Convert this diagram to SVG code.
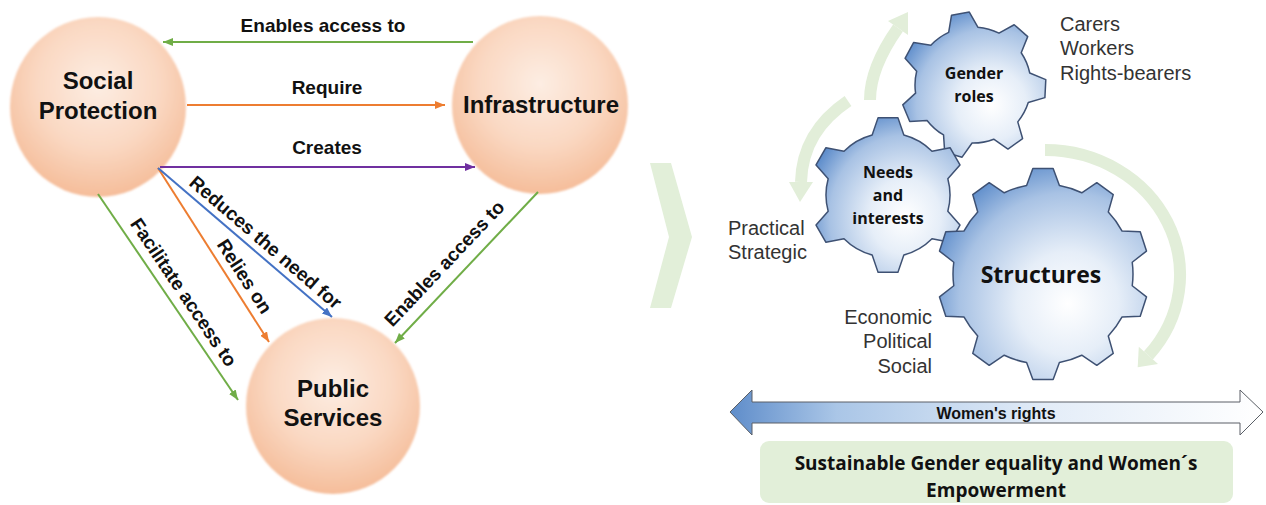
<svg xmlns="http://www.w3.org/2000/svg" width="1266" height="505" viewBox="0 0 1266 505">
<style>
.lbl{font-family:"Liberation Sans",Arial,sans-serif;font-weight:700;font-size:19px;fill:#111;text-anchor:middle}
.node{font-family:"Liberation Sans",Arial,sans-serif;font-weight:700;font-size:24px;fill:#111;text-anchor:middle}
.gl{font-family:"Open Sans","Liberation Sans",sans-serif;font-weight:700;font-size:16px;fill:#111;text-anchor:middle}
.plain{font-family:"Liberation Sans",Arial,sans-serif;font-size:20px;fill:#333}
.gear{stroke:#3e5173;stroke-width:1.5;fill:url(#gearG);stroke-linejoin:round}
.cn{fill:none;stroke-width:2}
.ga{fill:none;stroke:#e2eed9;stroke-width:12}
.gah{fill:#e2eed9}
</style>
<defs>
<radialGradient id="peach" cx="0.5" cy="0.38" r="0.64">
<stop offset="0" stop-color="#fdede3"/>
<stop offset="0.55" stop-color="#fad8c2"/>
<stop offset="1" stop-color="#f5bb97"/>
</radialGradient>
<filter id="soft" x="-5%" y="-5%" width="110%" height="110%"><feGaussianBlur stdDeviation="1.2"/></filter>
<radialGradient id="gearG" cx="0.62" cy="0.64" r="0.7">
<stop offset="0" stop-color="#ffffff"/>
<stop offset="0.35" stop-color="#e6eef8"/>
<stop offset="0.75" stop-color="#a8c2e4"/>
<stop offset="1" stop-color="#5e8dcb"/>
</radialGradient>
<linearGradient id="dbl" x1="0" y1="0" x2="1" y2="0">
<stop offset="0" stop-color="#5f8dca"/>
<stop offset="0.2" stop-color="#aac6e7"/>
<stop offset="0.6" stop-color="#e4edf8"/>
<stop offset="1" stop-color="#ffffff"/>
</linearGradient>
<marker id="mG" markerUnits="userSpaceOnUse" markerWidth="10" markerHeight="8" refX="10" refY="4" orient="auto"><path d="M0,0 L10,4 L0,8 z" fill="#70ad47"/></marker>
<marker id="mO" markerUnits="userSpaceOnUse" markerWidth="10" markerHeight="8" refX="10" refY="4" orient="auto"><path d="M0,0 L10,4 L0,8 z" fill="#ed7d31"/></marker>
<marker id="mP" markerUnits="userSpaceOnUse" markerWidth="10" markerHeight="8" refX="10" refY="4" orient="auto"><path d="M0,0 L10,4 L0,8 z" fill="#7030a0"/></marker>
<marker id="mB" markerUnits="userSpaceOnUse" markerWidth="10" markerHeight="8" refX="10" refY="4" orient="auto"><path d="M0,0 L10,4 L0,8 z" fill="#4472c4"/></marker>
</defs>
<rect width="1266" height="505" fill="#ffffff"/>

<g id="node-social">
<ellipse cx="98" cy="107" rx="88" ry="90" fill="url(#peach)" filter="url(#soft)"/>
<text class="node" x="98" y="89">Social</text>
<text class="node" x="98" y="119">Protection</text>
</g>
<g id="node-infra">
<ellipse cx="540" cy="105" rx="88" ry="89" fill="url(#peach)" filter="url(#soft)"/>
<text class="node" x="541" y="113">Infrastructure</text>
</g>
<g id="node-public">
<ellipse cx="333" cy="406" rx="87" ry="88" fill="url(#peach)" filter="url(#soft)"/>
<text class="node" x="333" y="397">Public</text>
<text class="node" x="333" y="426">Services</text>
</g>

<g id="connectors">
<line class="cn" x1="473" y1="42" x2="163" y2="42" stroke="#70ad47" marker-end="url(#mG)"/>
<line class="cn" x1="187" y1="105" x2="445" y2="105" stroke="#ed7d31" marker-end="url(#mO)"/>
<line class="cn" x1="160" y1="167" x2="475" y2="167" stroke="#7030a0" marker-end="url(#mP)"/>
<line class="cn" x1="98" y1="194" x2="238" y2="400" stroke="#70ad47" marker-end="url(#mG)"/>
<line class="cn" x1="158" y1="168" x2="269" y2="342" stroke="#ed7d31" marker-end="url(#mO)"/>
<line class="cn" x1="158" y1="168" x2="332" y2="317" stroke="#4472c4" marker-end="url(#mB)"/>
<line class="cn" x1="538" y1="192" x2="395" y2="343" stroke="#70ad47" marker-end="url(#mG)"/>
<text class="lbl" x="323" y="32">Enables access to</text>
<text class="lbl" x="327" y="94">Require</text>
<text class="lbl" x="327" y="154">Creates</text>
<text class="lbl" transform="translate(184,292) rotate(56)" x="0" y="7">Facilitate access to</text>
<text class="lbl" transform="translate(245,276) rotate(57)" x="0" y="7">Relies on</text>
<text class="lbl" transform="translate(266,242) rotate(40.6)" x="0" y="7">Reduces the need for</text>
<text class="lbl" transform="translate(444,263) rotate(-46.6)" x="0" y="7">Enables access to</text>
</g>

<polygon id="chevron" points="650,163 671,163 692,237 671,308 650,308 669,237" fill="#e2efd9"/>

<g id="cycle-arrows">
<path class="ga" d="M870,100 C870,72 886,45 898,28"/>
<polygon class="gah" points="908,12 908,35 888,21"/>
<path class="ga" d="M848,101 C820,120 802,145 801,182"/>
<polygon class="gah" points="800,202 813,182 789,182"/>
<path class="ga" d="M1045,150 A135,125 0 0 1 1148.4,355.4"/>
<polygon class="gah" points="1137.7,367.3 1158,364.1 1138.8,346.7"/>
</g>

<g id="gear-gender">
<path class="gear" d="M948.67,32.35 L951.54,15.23 L969.31,12.09 L977.85,27.2 A58,58 0 0 1 999,33.15 L1014.17,24.72 L1027.71,36.65 L1021.22,52.76 A58,58 0 0 1 1029.75,73 L1045.8,79.6 L1044.9,97.62 L1028.27,102.59 A58,58 0 0 1 1017.76,121.88 L1022.6,138.57 L1007.96,149.09 L993.71,139.18 A58,58 0 0 1 972.07,142.99 L962.07,157.18 L944.7,152.29 L943.55,134.97 A58,58 0 0 1 927.07,120.43 L909.75,121.45 L902.74,104.83 L915.57,93.13 A58,58 0 0 1 916.66,71.2 L905.07,58.28 L913.69,42.43 L930.83,45.18 A58,58 0 0 1 948.67,32.35 Z"/>
<text class="gl" x="974" y="79">Gender</text>
<text class="gl" x="974" y="102">roles</text>
</g>

<g id="gear-needs">
<path class="gear" d="M872.16,135.06 L878.09,117.63 L897.91,117.63 L903.84,135.06 A62,62 0 0 1 932,151.31 L950.05,147.73 L959.96,164.9 L947.83,178.74 A62,62 0 0 1 947.83,211.26 L959.96,225.1 L950.05,242.27 L932,238.69 A62,62 0 0 1 903.84,254.94 L897.91,272.37 L878.09,272.37 L872.16,254.94 A62,62 0 0 1 844,238.69 L825.95,242.27 L816.04,225.1 L828.17,211.26 A62,62 0 0 1 828.17,178.74 L816.04,164.9 L825.95,147.73 L844,151.31 A62,62 0 0 1 872.16,135.06 Z"/>
<text class="gl" x="888" y="178">Needs</text>
<text class="gl" x="888" y="201">and</text>
<text class="gl" x="888" y="224">interests</text>
</g>

<g id="gear-structures">
<path class="gear" d="M1026.6,185.5 L1032.85,168.49 L1053.15,168.49 L1059.4,185.5 A90,90 0 0 1 1081.75,192.77 L1096.8,182.67 L1113.24,194.61 L1108.29,212.04 A90,90 0 0 1 1122.09,231.05 L1140.21,231.74 L1146.49,251.06 L1132.23,262.25 A90,90 0 0 1 1132.23,285.75 L1146.49,296.94 L1140.21,316.26 L1122.09,316.95 A90,90 0 0 1 1108.29,335.96 L1113.24,353.39 L1096.8,365.33 L1081.75,355.23 A90,90 0 0 1 1059.4,362.5 L1053.15,379.51 L1032.85,379.51 L1026.6,362.5 A90,90 0 0 1 1004.25,355.23 L989.2,365.33 L972.76,353.39 L977.71,335.96 A90,90 0 0 1 963.91,316.95 L945.79,316.26 L939.51,296.94 L953.77,285.75 A90,90 0 0 1 953.77,262.25 L939.51,251.06 L945.79,231.74 L963.91,231.05 A90,90 0 0 1 977.71,212.04 L972.76,194.61 L989.2,182.67 L1004.25,192.77 A90,90 0 0 1 1026.6,185.5 Z"/>
<text class="gl" x="1041" y="283" style="font-size:23px">Structures</text>
</g>

<g id="gear-texts">
<text class="plain" x="1060" y="31">Carers</text>
<text class="plain" x="1060" y="55">Workers</text>
<text class="plain" x="1060" y="80">Rights-bearers</text>
<text class="plain" x="728" y="235">Practical</text>
<text class="plain" x="728" y="259">Strategic</text>
<text class="plain" x="932" y="324" text-anchor="end">Economic</text>
<text class="plain" x="932" y="348" text-anchor="end">Political</text>
<text class="plain" x="932" y="373" text-anchor="end">Social</text>
</g>

<g id="womens-rights">
<path d="M730,412 L752,390 L752,402 L1240,402 L1240,390 L1263,412 L1240,435 L1240,423 L752,423 L752,435 Z" fill="url(#dbl)" stroke="#5a5f66" stroke-width="1"/>
<text class="lbl" x="996" y="419" style="font-size:16px">Women's rights</text>
</g>

<g id="goal-box">
<rect x="760" y="441" width="473" height="62" rx="9" fill="#e2efd9"/>
<text class="gl" x="996" y="470" style="font-size:19px">Sustainable Gender equality and Women´s</text>
<text class="gl" x="996" y="497" style="font-size:19px">Empowerment</text>
</g>
</svg>
